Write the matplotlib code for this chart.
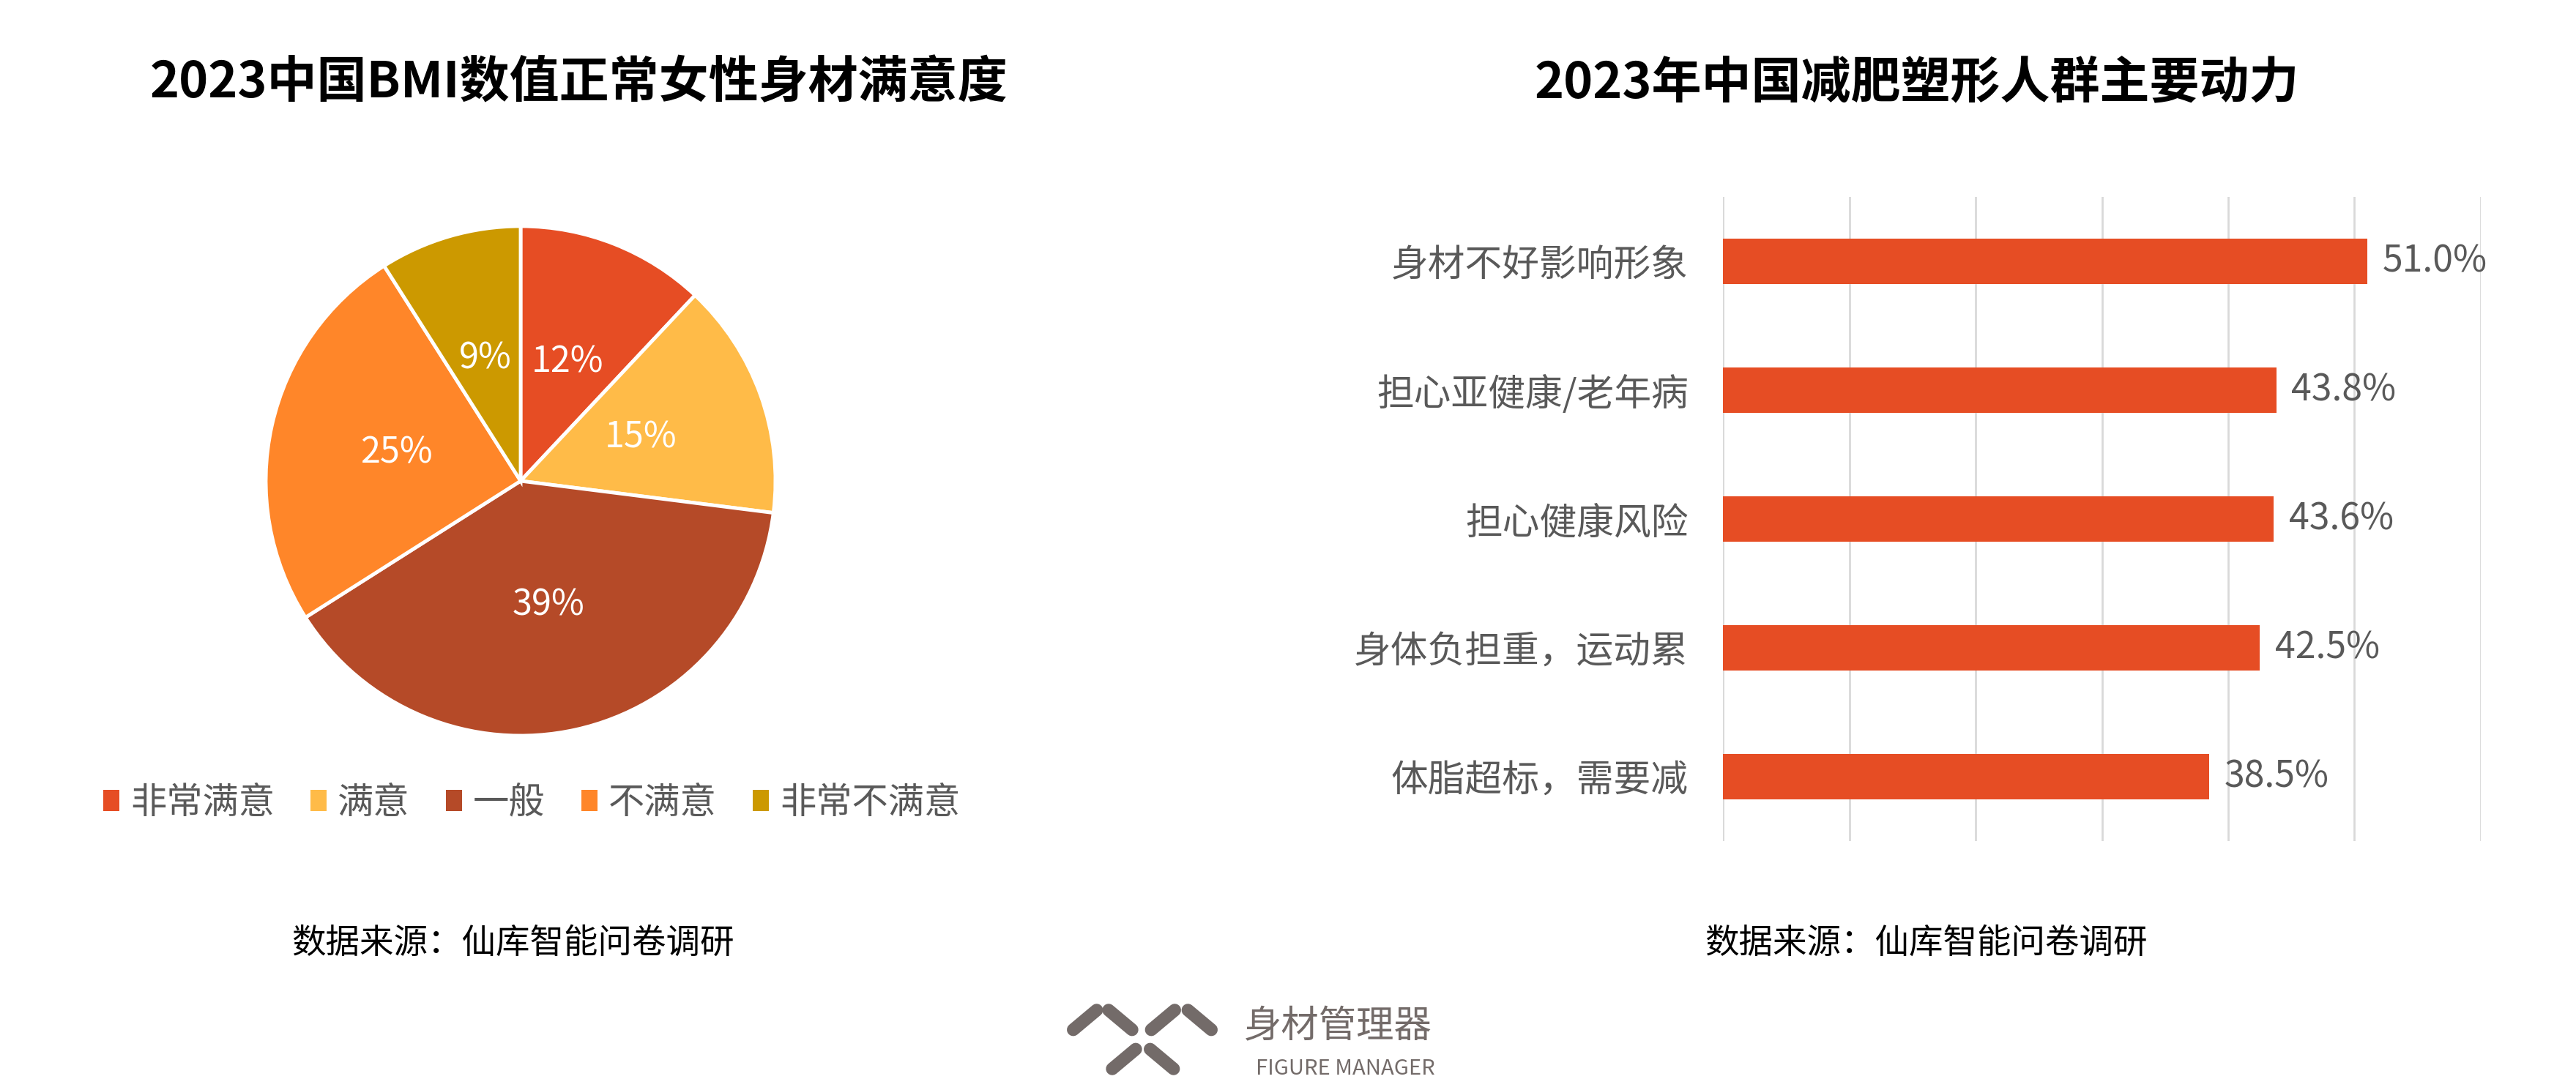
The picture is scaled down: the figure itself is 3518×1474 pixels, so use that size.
import matplotlib
matplotlib.use("Agg")
import matplotlib.pyplot as plt
from matplotlib.patches import Patch
from matplotlib.lines import Line2D

plt.rcParams['font.family'] = ['Noto Sans CJK SC', 'DejaVu Sans']

# ---------------- data ----------------
pie_title = "2023中国BMI数值正常女性身材满意度"
pie_labels = ["非常满意", "满意", "一般", "不满意", "非常不满意"]
pie_values = [12, 15, 39, 25, 9]
pie_colors = ["#E64D24", "#FFBB48", "#B54A28", "#FF8629", "#CC9900"]

bar_title = "2023年中国减肥塑形人群主要动力"
bar_categories = ["身材不好影响形象", "担心亚健康/老年病", "担心健康风险",
                  "身体负担重，运动累", "体脂超标，需要减"]
bar_values = [0.510, 0.438, 0.436, 0.425, 0.385]
bar_color = "#E64D24"

source_text = "数据来源：仙库智能问卷调研"
logo_cn = "身材管理器"
logo_en = "FIGURE MANAGER"

W, H = 3518, 1474
DPI = 100
fig = plt.figure(figsize=(W / DPI, H / DPI), dpi=DPI)
fig.patch.set_facecolor("white")

def fx(px):
    return px / W

def fy(py):
    return 1 - py / H

GRAY = "#595959"

# ---------------- titles ----------------
fig.text(fx(790), fy(114), pie_title, ha="center", va="center",
         fontsize=49, fontweight="bold", color="black")
fig.text(fx(2618), fy(114), bar_title, ha="center", va="center",
         fontsize=49, fontweight="bold", color="black")

# ---------------- pie ----------------
cx, cy, r = 711, 657, 348
ax_pie = fig.add_axes([fx(cx - r), fy(cy + r), 2 * r / W, 2 * r / H])
wedges, texts, autotexts = ax_pie.pie(
    pie_values, colors=pie_colors, startangle=90, counterclock=False,
    autopct=lambda p: f"{round(p)}%", pctdistance=0.5,
    wedgeprops=dict(edgecolor="white", linewidth=3.5),
    textprops=dict(color="white", fontsize=35, fontweight="light"))
ax_pie.set_xlim(-1, 1)
ax_pie.set_ylim(-1, 1)

handles = [Patch(facecolor=c, edgecolor="none") for c in pie_colors]
fig.legend(handles, pie_labels, loc="center", bbox_to_anchor=(fx(726), fy(1097)),
           ncol=5, frameon=False, handlelength=0.45, handleheight=0.55,
           handletextpad=0.3, columnspacing=1.0, labelcolor=GRAY,
           prop=dict(size=35.5, weight="light"))

# ---------------- bars ----------------
left, right, top, bottom = 2353, 3388, 269, 1149
ax_bar = fig.add_axes([fx(left), fy(bottom), (right - left) / W, (bottom - top) / H])
ypos = list(range(len(bar_categories)))
ax_bar.barh(ypos, bar_values, height=0.35, color=bar_color, zorder=3)
ax_bar.set_xlim(0, 0.6)
ax_bar.set_ylim(len(bar_categories) - 0.5, -0.5)
ax_bar.set_xticks([0, 0.1, 0.2, 0.3, 0.4, 0.5, 0.6])
ax_bar.xaxis.grid(True, color="#D9D9D9", linewidth=2)
ax_bar.tick_params(axis="x", length=0, labelbottom=False)
ax_bar.set_yticks(ypos)
ax_bar.set_yticklabels(bar_categories, fontsize=36.5, color=GRAY, fontweight="light")
ax_bar.tick_params(axis="y", length=0, pad=34)
for s in ax_bar.spines.values():
    s.set_visible(False)
for y, v in zip(ypos, bar_values):
    ax_bar.annotate(f"{v * 100:.1f}%", xy=(v, y), xytext=(15, 0),
                    textcoords="offset points", ha="left", va="center",
                    fontsize=36, color=GRAY, fontweight="light")

# ---------------- sources ----------------
fig.text(fx(700), fy(1288), source_text, ha="center", va="center",
         fontsize=33.5, color="black")
fig.text(fx(2630), fy(1288), source_text, ha="center", va="center",
         fontsize=33.5, color="black")

# ---------------- logo ----------------
LOGO = "#736B69"
centers = [(1481.7, 1393.3, 1), (1530, 1393.3, -1), (1588.3, 1393.3, 1),
           (1638.3, 1393.3, -1), (1535, 1446.7, 1), (1586.7, 1446.7, -1)]
ddx, ddy = 16.0, 13.4
for (x0, y0, s) in centers:
    xs = [x0 - ddx, x0 + ddx]
    ys = [y0 + s * ddy, y0 - s * ddy]
    fig.add_artist(Line2D([fx(v) for v in xs], [fy(v) for v in ys],
                          transform=fig.transFigure, color=LOGO, linewidth=12.5,
                          solid_capstyle="round"))
fig.text(fx(1699), fy(1403), logo_cn, ha="left", va="center", fontsize=37, color=LOGO)
fig.text(fx(1715), fy(1460), logo_en, ha="left", va="center", fontsize=21, color=LOGO)

fig.savefig("out.png", dpi=DPI, facecolor="white")
